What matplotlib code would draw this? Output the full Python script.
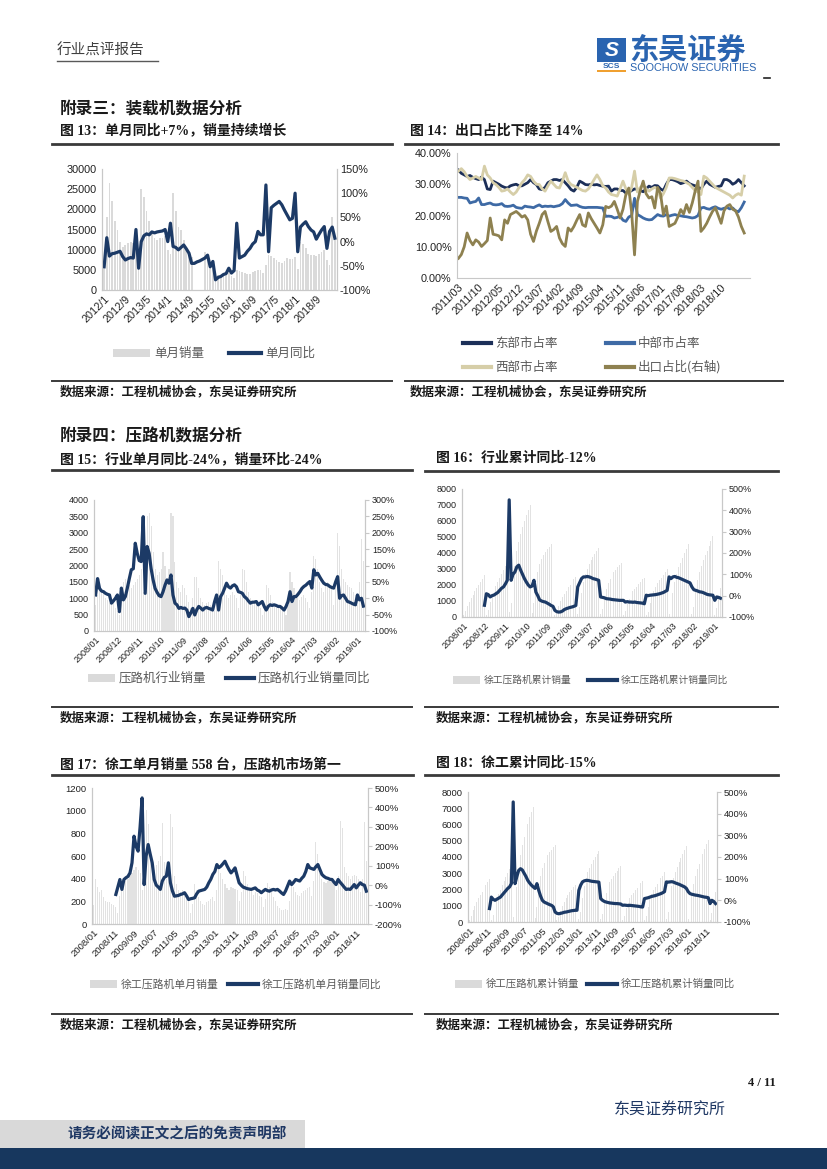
import numpy as np
import matplotlib
matplotlib.use("Agg")
import matplotlib.pyplot as plt
from matplotlib.lines import Line2D
from matplotlib.patches import Rectangle
from matplotlib.ticker import FuncFormatter

W, H = 827, 1169
SANS = ['Liberation Sans', 'Noto Sans CJK SC']
SERIF = ['Liberation Serif', 'Noto Sans CJK SC']
CJK = ['Noto Sans CJK SC', 'DejaVu Sans']
plt.rcParams['font.family'] = SANS

NAVY = '#1c3a66'
BAR = '#dadada'
AXC = '#c8c8c8'

# ---- 图13 装载机 单月销量 / 单月同比 (2012/1 - 2019/4)
ticks13 = ['2012/1', '2012/9', '2013/5', '2014/1', '2014/9', '2015/5',
           '2016/1', '2016/9', '2017/5', '2018/1', '2018/9']
loader_sales = [5500, 18000, 26500, 22000, 17000, 15000, 12000, 10600, 11200, 11600, 12000, 11700,
                12000, 7500, 25000, 23000, 19500, 17000, 14500, 13000, 12500, 13000, 13000, 13500,
                10000, 9000, 24000, 19500, 15500, 15000, 12500, 9800, 8700, 8300, 0, 0,
                0, 0, 9500, 9000, 7000, 5500, 4000, 3800, 3500, 3900, 4100, 4300,
                3500, 3000, 5000, 4600, 4400, 4200, 3900, 4000, 4400, 4700, 4900, 5000,
                4300, 6200, 8800, 8400, 8000, 7500, 7000, 6800, 7200, 8000, 7600, 7700,
                8200, 5200, 12000, 11500, 10500, 9000, 8700, 8600, 8500, 9000, 9300, 9800,
                7500, 6200, 18000, 12500]
loader_yoy = [-52, 8, -30, -25, -24, -22, -20, -31, -38, -35, -33, -34,
              25, -55, 0, 12, 16, 14, 20, 18, 20, 21, 22, 25,
              0, 38, -10, -12, -17, -12, -7, -15, -24, -45, -45, -42,
              -40, -37, -34, -28, -52, -41, -79, -74, -72, -68, -66, -55,
              -65, -60, 38, -34, -31, -28, -20, -14, -5, 0, 21, 14,
              14, 117, -21, 70, 75, 79, 83, 76, 65, 55, 45, 48,
              100, -21, 30, 36, 41, 31, 24, 20, 5, 15, 24, 31,
              -14, 21, 30, 7]

# ---- 图14 区域市占率 / 出口占比 (2011/03 起)
ticks14 = ['2011/03', '2011/10', '2012/05', '2012/12', '2013/07', '2014/02', '2014/09',
           '2015/04', '2015/11', '2016/06', '2017/01', '2017/08', '2018/03', '2018/10']
share_east = [34.5, 33.5, 33, 32.5, 32.8, 32.2, 31.8, 31.5, 32.3, 31.5,
              28.5, 28.3, 31, 30.5, 30, 29.4, 29, 28.8, 29.5, 29.8,
              30, 29.5, 29.5, 30, 30.5, 31.5, 30.5, 29.9, 28.5, 28.3,
              29, 30.5, 31, 31.5, 31.5, 31.2, 31.5, 30.5, 29.5, 28.3,
              27.8, 29, 31, 30.5, 29.9, 29.8, 30, 29.8, 29.9, 29.6,
              29.4, 29.3, 29.4, 27.8, 28.5, 28.5, 28, 28, 27.2, 27.4,
              28, 28.5, 28.4, 28, 27.6, 28.5, 29.4, 29, 29.6, 29.5,
              28.5, 28, 30, 31.5, 31.5, 31.2, 30.8, 30.2, 30.5, 31,
              30.2, 29.8, 29.5, 29, 28.5, 30, 31, 30, 29.5, 29,
              29.3, 29.5, 31.5, 31.5, 31, 30, 30.5, 31.5, 30.5, 29.5]
share_mid = [25.8, 25.8, 25.6, 25.5, 24, 24.3, 24.5, 25.6, 23.5, 23.5,
             23.8, 24, 23.5, 23.4, 23.5, 23.8, 23, 22.9, 23, 23.3,
             22.6, 22.4, 22.3, 23, 22.8, 22.7, 22.5, 23, 23.4, 22.8,
             23, 22.9, 23, 22.8, 23, 23.2, 23.8, 25.1, 24, 23.2,
             23.3, 23.4, 22.9, 22.6, 22.5, 22.6, 22.6, 22.6, 22.6, 22.5,
             22.4, 19.7, 19.8, 19.7, 19.2, 19.4, 19.8, 18.5, 18.1, 19.5,
             20, 25.5, 20.3, 19.8, 19.2, 18.8, 18.6, 18.7, 19.5, 20.3,
             19.9, 19.8, 20.3, 19.8, 20.1, 20.3, 20, 19.9, 19.7, 19.6,
             19.4, 19.2, 19.4, 20, 22.4, 22.6, 22.2, 22, 22.5, 22.8,
             22.3, 22, 22.3, 22.6, 22.1, 22.4, 21.5, 21.2, 22.5, 24.3]
share_west = [34.2, 35, 34, 32.5, 31.5, 32, 32.5, 32, 31.5, 35.8,
              33, 32, 30.5, 29.9, 29, 27.8, 28, 28.5, 27.5, 26.7,
              27.5, 29, 30.5, 31.5, 33, 32.5, 31, 30, 29.9, 28.5,
              27.8, 29.5, 31, 30, 29, 28.8, 31, 33.7, 31, 29.9,
              29.5, 29, 28.5, 28, 27.8, 28.5, 29.9, 31.5, 33, 31.5,
              29.5, 28.8, 27.5, 26.7, 26.5, 26.2, 28.5, 31, 28.5, 26.7,
              29, 34.2, 27.5, 29, 29.9, 28.5, 27.8, 28.5, 29, 28.5,
              25.6, 27, 29, 32, 32, 31.8, 31.5, 31.2, 31, 30.5,
              30, 29, 28, 27.5, 26.7, 32.6, 32, 31, 30, 29,
              28.5, 28, 27.5, 27, 26.5, 25.6, 26.5, 27, 26.5, 32.6]
share_export = [6.3, 7.5, 10, 14.4, 12, 10.6, 12.2, 11.5, 10.1, 11,
                12, 19.2, 14, 13.8, 13.5, 12.2, 18.6, 17.5, 20.3, 20.8,
                21.3, 20.5, 19.5, 20, 18.6, 14, 11.7, 15, 17.5, 20.3,
                21.3, 18, 14.9, 15.5, 16.5, 12.8, 11, 10.1, 16, 15,
                16.5, 18.5, 20.3, 17, 16.5, 20.8, 19, 17.5, 16, 14.4,
                17, 22.9, 22.5, 23, 24.5, 22, 19.2, 22, 26.7, 28.8,
                21, 7.4, 24.5, 28, 31, 27, 25.6, 26, 22.4, 29,
                27, 20.3, 23, 16.5, 17, 17.5, 19.5, 21.9, 20.5, 23.5,
                21, 24, 27.8, 31, 14.9, 16, 17.5, 19.5, 21.3, 22.5,
                20, 17.5, 21.5, 23, 23.5, 22, 21.5, 19.5, 16.5, 14.4]

# ---- 压路机 (2008/01 - 2019/04)
ticks15 = ['2008/01', '2008/12', '2009/11', '2010/10', '2011/09', '2012/08', '2013/07',
           '2014/06', '2015/05', '2016/04', '2017/03', '2018/02', '2019/01']
ticks17 = ['2008/01', '2008/11', '2009/09', '2010/07', '2011/05', '2012/03', '2013/01',
           '2013/11', '2014/09', '2015/07', '2016/05', '2017/03', '2018/01', '2018/11']

roller_sales = [800, 1100, 1300, 1250, 1150, 1000, 950, 850, 900, 850, 700, 600,
                500, 900, 1500, 1600, 1500, 1400, 1300, 1400, 1500, 1600, 1700, 1900,
                1200, 2200, 3500, 3600, 3200, 2400, 1900, 1700, 1800, 1900, 2400, 2000,
                1500, 1900, 3600, 3500, 2100, 1500, 1300, 1200, 1400, 1300, 1100, 900,
                700, 1000, 1650, 1650, 1300, 1000, 900, 800, 850, 900, 800, 750,
                600, 1000, 2150, 1900, 1700, 1300, 1100, 1000, 1100, 1200, 1100, 1000,
                700, 1100, 1900, 1850, 1500, 1200, 1000, 900, 950, 900, 800, 700,
                500, 800, 1400, 1300, 1100, 900, 800, 700, 750, 800, 750, 700,
                500, 800, 1800, 1500, 1300, 1100, 1000, 950, 1050, 1100, 1000, 900,
                700, 1200, 2300, 2200, 1900, 1500, 1300, 1200, 1400, 1500, 1400, 1300,
                800, 1300, 3000, 2600, 1900, 1600, 1500, 1400, 1350, 1300, 1200, 1100,
                800, 1500, 2800, 2130]
roller_yoy = [10, 60, 30, 22, 20, 15, 12, 10, -15, -8, 0, 10,
              -41, 31, -5, 5, 31, 60, 87, 90, 168, 137, 115, 112,
              249, 15, 158, 137, 90, 56, 30, 18, 8, 5, 20, 40,
              56, 46, 71, 10, -15, -20, -31, -28, -31, -30, -36, -56,
              -45, -31, -51, -35, -25, -30, -36, -30, -28, -31, -33, -36,
              -10, 10, -36, 5, 15, 30, 46, 35, 31, 38, 41, 35,
              20, 18, 15, 5, 0, -8, -15, -12, -12, -10, -20, -15,
              -10, -25, -36, -25, -20, -22, -20, -22, -25, -25, -30, -36,
              -25, -10, 20, -10, 5, 5, 12, 20, 30, 36, 40, 46,
              51, 31, 87, 71, 76, 65, 55, 46, 42, 41, 36, 33,
              31, 50, 66, 0, 8, 10, 0, -10, -12, -15, -18, -20,
              10, -5, 0, -24]

xg_cum = [120, 350, 700, 950, 1200, 1400, 1600, 1800, 2000, 2200, 2400, 2600,
          150, 450, 950, 1300, 1650, 1950, 2200, 2450, 2700, 2950, 3200, 3500,
          300, 900, 2100, 3200, 4100, 4700, 5200, 5600, 6000, 6400, 6700, 7000,
          250, 900, 2000, 2800, 3300, 3600, 3850, 4050, 4250, 4400, 4550, 4700,
          100, 300, 700, 1000, 1250, 1450, 1650, 1850, 2000, 2150, 2350, 2500,
          200, 600, 1500, 2200, 2700, 3000, 3300, 3550, 3750, 3950, 4150, 4300,
          200, 500, 1200, 1750, 2100, 2400, 2600, 2800, 2950, 3100, 3250, 3400,
          100, 350, 800, 1150, 1400, 1600, 1750, 1900, 2050, 2200, 2350, 2450,
          100, 300, 900, 1350, 1650, 1900, 2100, 2300, 2450, 2650, 2800, 3000,
          200, 600, 1500, 2200, 2700, 3100, 3400, 3700, 4000, 4250, 4550, 4800,
          200, 600, 1600, 2300, 2800, 3200, 3550, 3850, 4150, 4450, 4750, 5050,
          150, 550, 1300, 1800]
xg_cum_yoy = [None] * 11 + [-45,
              9, 5, -6, 0, 3, 9, 15, 25, 35, 41, 55, 72,
              449, 72, 100, 111, 135, 143, 120, 100, 80, 64, 50, 41,
              45, 72, 17, 0, -20, -25, -28, -30, -35, -40, -46, -50,
              -69, -75, -77, -76, -72, -65, -61, -58, -55, -53, -50, -46,
              41, 60, 80, 88, 88, 90, 88, 85, 80, 78, 75, 72,
              -6, -8, -10, -14, -15, -16, -18, -19, -20, -21, -22, -22,
              -22, -30, -28, -30, -30, -31, -30, -32, -33, -34, -35, -38,
              2, 0, 2, 3, 4, 5, 7, 9, 12, 15, 20, 25,
              88, 80, 88, 90, 86, 84, 80, 76, 72, 68, 64, 60,
              41, 28, 25, 22, 18, 17, 14, 10, 6, 4, 3, 2,
              -22, -6, -8, -12]

xg_month = [170, 400, 330, 280, 300, 240, 200, 190, 190, 180, 170, 150,
            100, 250, 330, 350, 380, 400, 420, 450, 480, 500, 480, 450,
            300, 600, 1010, 880, 600, 500, 480, 520, 560, 600, 890, 550,
            400, 500, 970, 860, 420, 350, 300, 280, 300, 250, 220, 200,
            100, 180, 350, 300, 240, 200, 180, 170, 190, 200, 220, 240,
            200, 300, 500, 450, 400, 350, 320, 300, 330, 320, 310, 300,
            200, 280, 470, 420, 350, 320, 290, 260, 280, 270, 250, 240,
            150, 220, 360, 330, 280, 240, 200, 160, 140, 120, 120, 130,
            120, 200, 350, 330, 280, 260, 250, 270, 290, 300, 320, 330,
            250, 380, 720, 620, 450, 400, 370, 360, 380, 400, 390, 380,
            300, 420, 910, 850, 500, 450, 420, 400, 420, 430, 420, 400,
            280, 400, 900, 558]
xg_month_yoy = [None] * 11 + [-48,
                -10, 29, -22, 29, 38, 45, 63, 115, 252, 200, 175, 300,
                449, 3, 150, 209, 160, 115, 29, 0, -10, -22, 21, 40,
                46, 115, 12, -30, -57, -55, -53, -48, -45, -39, -55, -74,
                -70, -68, -65, -45, -31, -28, -25, -22, -10, 12, 30, 55,
                70, 106, 90, 98, 110, 123, 100, 80, 63, 75, 89, 50,
                12, 0, -10, -14, -18, -20, -22, -18, -14, -25, -30, -39,
                -30, -22, -28, -31, -25, -22, -25, -22, -30, -40, -48, -30,
                -5, 21, 3, 15, 29, 25, 21, 35, 46, 70, 106, 89,
                85, 81, 95, 106, 80, 55, 45, 38, 35, 30, 29, 15,
                3, 29, 15, 3, -10, -22, -20, -22, -10, 3, -14, 0,
                12, 3, 0, -31]

xg_cum2 = [150, 400, 750, 1000, 1250, 1450, 1650, 1850, 2050, 2250, 2450, 2650,
           150, 450, 1000, 1350, 1700, 2000, 2250, 2500, 2750, 3000, 3250, 3500,
           300, 950, 2150, 3250, 4150, 4750, 5250, 5650, 6050, 6450, 6750, 7050,
           250, 900, 2050, 2850, 3350, 3650, 3900, 4100, 4300, 4450, 4600, 4750,
           100, 300, 700, 1000, 1250, 1450, 1650, 1850, 2000, 2150, 2300, 2450,
           200, 600, 1500, 2200, 2700, 3050, 3350, 3600, 3800, 4000, 4200, 4400,
           200, 500, 1250, 1800, 2150, 2450, 2650, 2850, 3000, 3150, 3300, 3450,
           100, 350, 850, 1200, 1450, 1650, 1800, 1950, 2100, 2250, 2400, 2550,
           100, 350, 950, 1400, 1700, 1950, 2150, 2350, 2500, 2700, 2850, 3050,
           200, 600, 1500, 2200, 2700, 3100, 3400, 3700, 3950, 4200, 4450, 4650,
           200, 600, 1650, 2350, 2850, 3250, 3600, 3900, 4200, 4500, 4800, 5050,
           150, 550, 1350, 1850]
xg_cum2_yoy = [None] * 11 + [-38,
               15, 5, 0, 5, 10, 15, 25, 35, 45, 55, 62, 77,
               454, 77, 110, 138, 146, 140, 125, 110, 92, 80, 70, 62,
               55, 77, 46, 20, 0, -8, -12, -16, -20, -23, -30, -54,
               -60, -62, -60, -58, -55, -54, -52, -50, -48, -47, -46, -46,
               46, 70, 85, 90, 92, 92, 90, 88, 87, 86, 85, 84,
               8, 0, -5, -8, -10, -12, -13, -14, -15, -15, -16, -17,
               -23, -22, -23, -24, -23, -24, -25, -26, -27, -28, -30, -31,
               8, 10, 12, 15, 18, 20, 22, 25, 28, 31, 35, 40,
               85, 84, 85, 86, 84, 80, 77, 74, 70, 66, 62, 55,
               40, 31, 28, 26, 24, 23, 21, 19, 17, 15, 14, 12,
               -15, 0, -5, -15]

fig = plt.figure(figsize=(W / 100, H / 100), dpi=100)


def px_ax(l, t, r, b):
    return fig.add_axes([l / W, 1 - b / H, (r - l) / W, (b - t) / H])


def txt(x, y, s, **kw):
    kw.setdefault('va', 'center')
    fig.text(x / W, 1 - y / H, s, **kw)


def hrule(x0, x1, y, lw=1.6, color='#3a3a3a'):
    fig.add_artist(Line2D([x0 / W, x1 / W], [1 - y / H] * 2, lw=lw, color=color))


def box(x0, y0, x1, y1, color):
    fig.add_artist(Rectangle((x0 / W, 1 - y1 / H), (x1 - x0) / W, (y1 - y0) / H,
                             transform=fig.transFigure, color=color, lw=0))


def dual(rect, bars, line, lim_l, step_l, lim_r, step_r, labels, every, fs,
         rticks=True, bar_color=BAR, bar_w=0.6):
    ax = px_ax(*rect)
    x = np.arange(len(bars))
    ax.bar(x, bars, width=bar_w, color=bar_color, linewidth=0)
    ax.set_ylim(*lim_l)
    ax.set_yticks(np.arange(lim_l[0], lim_l[1] + 1, step_l))
    ax.set_xlim(-0.8, len(bars) - 0.2)
    ax.set_xticks(np.arange(len(labels)) * every)
    ax.set_xticklabels(labels, rotation=45, ha='right', rotation_mode='anchor', fontsize=fs)
    ax2 = ax.twinx()
    ax2.plot(x, np.array(line, dtype=float), color=NAVY, lw=2.3, solid_joinstyle='round')
    ax2.set_ylim(*lim_r)
    ax2.set_yticks(np.arange(lim_r[0], lim_r[1] + 1, step_r))
    ax2.yaxis.set_major_formatter(FuncFormatter(lambda v, p: f"{v:.0f}%"))
    for a in (ax, ax2):
        for s in a.spines.values():
            s.set_color(AXC)
            s.set_linewidth(0.8)
        a.spines['top'].set_visible(False)
    ax.tick_params(axis='y', length=0, labelsize=fs, pad=4, labelcolor='#222222')
    ax.tick_params(axis='x', length=0, pad=3, labelcolor='#222222')
    ax2.tick_params(axis='y', length=3 if rticks else 0, color=AXC, labelsize=fs,
                    pad=2, labelcolor='#222222')
    return ax


def leg_bar(x, y, w, label, fs):
    box(x, y - 4, x + w, y + 4, BAR)
    txt(x + w + 4, y, label, fontsize=fs, color='#595959', family=CJK)


def leg_line(x, y, w, label, fs, color=NAVY):
    fig.add_artist(Line2D([x / W, (x + w) / W], [1 - y / H] * 2, lw=3, color=color))
    txt(x + w + 4, y, label, fontsize=fs, color='#595959', family=CJK)


def title(x, y, s, size=10):
    txt(x, y, s, fontsize=size, weight='bold', family=SERIF, color='#1a1a1a')


# ---- page header
txt(57, 51, '行业点评报告', fontsize=10.5, color='#404040', family=SERIF)
hrule(57, 158, 61, lw=1.0, color='#595959')
box(597, 38, 626, 62, '#2a64b0')
txt(611.5, 50, 'S', fontsize=15, color='white', weight='bold', style='italic', ha='center')
txt(611.5, 67, 'SCS', fontsize=6, color='#2a64b0', weight='bold', ha='center')
box(597, 70, 626, 72, '#f0a030')
txt(629, 50, '东吴证券', fontsize=21, color='#2a64b0', weight='bold', family=CJK)
txt(630, 68, 'SOOCHOW SECURITIES', fontsize=7.8, color='#2a64b0')
hrule(764, 770, 78, lw=1.2, color='#222222')

# ---- 附录三
title(60, 110, '附录三：装载机数据分析', 12)
title(60, 131, '图 13：单月同比+7%，销量持续增长')
title(410, 131, '图 14：出口占比下降至 14%')
hrule(52, 392, 144, lw=2)
hrule(405, 778, 144, lw=2)

dual((102, 169, 337, 290), loader_sales, loader_yoy, (0, 30000), 5000, (-100, 150), 50,
     ticks13, 8, 7.8, rticks=False, bar_w=0.65)
leg_bar(113, 353, 37, '单月销量', 9)
leg_line(229, 353, 32, '单月同比', 9)

ax14 = px_ax(457, 153, 750, 278)
xm = np.arange(len(share_east))
ax14.plot(xm, share_east, color='#1c2f58', lw=2)
ax14.plot(xm, share_mid, color='#3e6aa5', lw=2)
ax14.plot(xm, share_west, color='#d6cea8', lw=2)
ax14.plot(xm, share_export, color='#8e8150', lw=2)
ax14.set_ylim(0, 40)
ax14.set_yticks([0, 10, 20, 30, 40])
ax14.yaxis.set_major_formatter(FuncFormatter(lambda v, p: f"{v:.2f}%"))
ax14.set_xlim(-0.5, len(share_east) + 1)
ax14.set_xticks(np.arange(len(ticks14)) * 7)
ax14.set_xticklabels(ticks14, rotation=45, ha='right', rotation_mode='anchor', fontsize=7.8)
for s in ('top', 'right'):
    ax14.spines[s].set_visible(False)
for s in ('left', 'bottom'):
    ax14.spines[s].set_color(AXC)
ax14.tick_params(axis='y', length=0, labelsize=7.8, pad=4, labelcolor='#222222')
ax14.tick_params(axis='x', length=0, pad=3, labelcolor='#222222')
leg_line(463, 343, 28, '东部市占率', 9, color='#1c2f58')
leg_line(606, 343, 28, '中部市占率', 9, color='#3e6aa5')
leg_line(463, 367, 28, '西部市占率', 9, color='#d6cea8')
leg_line(606, 367, 28, '出口占比(右轴)', 9, color='#8e8150')

hrule(52, 392, 381, lw=1.4)
hrule(405, 783, 381, lw=1.4)
src = '数据来源：工程机械协会，东吴证券研究所'
title(60, 392, src, 9)
title(410, 392, src, 9)

# ---- 附录四
title(60, 437, '附录四：压路机数据分析', 12)
title(60, 459, '图 15：行业单月同比-24%，销量环比-24%')
title(436, 458, '图 16：行业累计同比-12%')
hrule(52, 412, 470, lw=2)
hrule(425, 778, 471, lw=2)

LIGHT = '#e2e2e2'
dual((94, 500, 365, 631), roller_sales, roller_yoy, (0, 4000), 500, (-100, 300), 50,
     ticks15, 11, 6.5, bar_color=LIGHT, bar_w=0.55)
leg_bar(88, 678, 27, '压路机行业销量', 9)
leg_line(226, 678, 28, '压路机行业销量同比', 9)

dual((462, 489, 722, 617), xg_cum, xg_cum_yoy, (0, 8000), 1000, (-100, 500), 100,
     ticks15, 11, 6.5, bar_color=LIGHT, bar_w=0.5)
leg_bar(453, 680, 27, '徐工压路机累计销量', 7)
leg_line(588, 680, 29, '徐工压路机累计销量同比', 7)

hrule(52, 412, 707, lw=1.4)
hrule(425, 778, 707, lw=1.4)
title(60, 718, src, 9)
title(436, 718, src, 9)

title(60, 764, '图 17：徐工单月销量 558 台，压路机市场第一')
title(436, 763, '图 18：徐工累计同比-15%')
hrule(52, 413, 775, lw=2)
hrule(425, 778, 775, lw=2)

dual((92, 788, 368, 924), xg_month, xg_month_yoy, (0, 1200), 200, (-200, 500), 100,
     ticks17, 10, 6.8, bar_color=LIGHT, bar_w=0.55)
leg_bar(90, 984, 27, '徐工压路机单月销量', 7.8)
leg_line(228, 984, 30, '徐工压路机单月销量同比', 7.8)

dual((468, 792, 717, 922), xg_cum2, xg_cum2_yoy, (0, 8000), 1000, (-100, 500), 100,
     ticks17, 10, 6.8, bar_color=LIGHT, bar_w=0.5)
leg_bar(455, 984, 27, '徐工压路机累计销量', 7.5)
leg_line(587, 984, 30, '徐工压路机累计销量同比', 7.5)

hrule(52, 412, 1014, lw=1.4)
hrule(425, 778, 1014, lw=1.4)
title(60, 1025, src, 9)
title(436, 1025, src, 9)

# ---- footer
txt(776, 1083, '4 / 11', fontsize=9, weight='bold', family=SERIF, ha='right', color='#1a1a1a')
txt(726, 1111, '东吴证券研究所', fontsize=11.5, family=SERIF, ha='right', color='#1f3864')
box(0, 1120, 305, 1148, '#d9d9d9')
box(0, 1148, W, H, '#17375e')
txt(68, 1134, '请务必阅读正文之后的免责声明部', fontsize=10.5, weight='bold', family=SERIF, color='#1f3864')

fig.savefig('out.png', dpi=100)
